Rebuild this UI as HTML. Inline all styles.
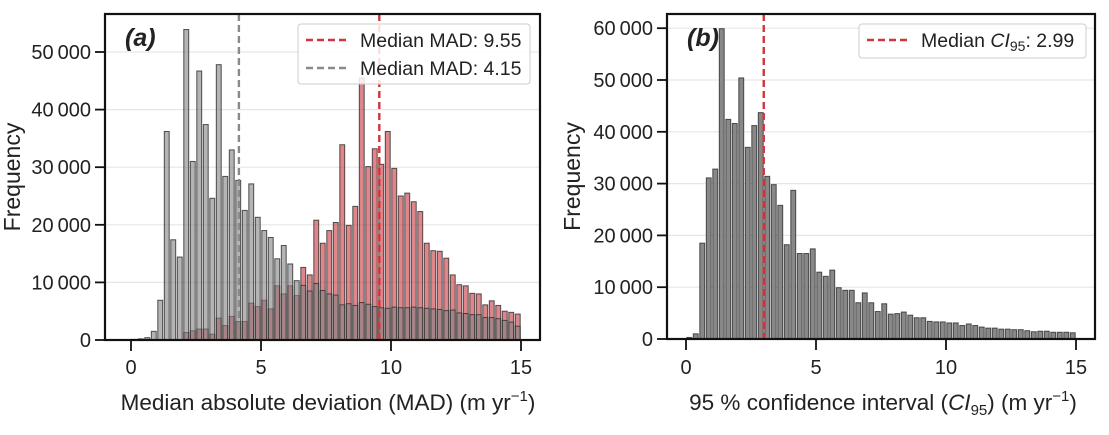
<!DOCTYPE html>
<html><head><meta charset="utf-8"><style>
body{margin:0;background:#fff;width:1109px;height:430px;overflow:hidden}
svg{font-family:"Liberation Sans",Arial,sans-serif}
</style></head><body>
<svg id="c" width="1109" height="430"></svg>
<script>
const binEdgesStart = 0, binWidth = 0.25, binCount = 60;
const grayMAD = [100,200,400,1500,6900,36200,17400,14400,53900,31000,46700,37400,24600,47800,28400,33000,27700,22500,27100,21300,19000,17800,14100,16400,13200,10300,9500,8500,9800,8600,8000,7800,6100,6300,6000,6500,6200,5800,5600,5500,5700,5600,5600,5700,5600,5500,5400,5300,5100,5200,4700,4600,4400,4400,3900,3900,3700,3400,3100,2400];
const redMAD = [0,0,0,0,0,0,0,0,1300,1600,1900,1900,1000,3800,2500,4100,3200,3200,6400,5800,6900,5400,9400,8000,9400,7700,12600,11300,20800,16800,19000,20400,33900,19900,23200,45500,30100,33200,30500,36200,29800,25000,25500,24000,22300,16800,15500,15400,14200,11300,9600,9400,8100,8000,6100,6800,6000,5000,4800,4500];
const ci95 = [300,1000,18500,31100,32800,59900,42400,41600,50400,37000,41200,43700,31400,29800,25800,18200,28700,16500,16500,17400,12900,12100,13300,9900,9400,9400,7000,8900,7000,5300,6800,4800,4900,5200,4600,4100,4100,3400,3300,3300,3100,3100,2600,2900,2600,2300,2100,2100,1900,1900,1800,1800,1600,1400,1500,1500,1300,1300,1300,1200];
const xTicks = [0,5,10,15];
const yTicksA = [0,10000,20000,30000,40000,50000];
const yTicksB = [0,10000,20000,30000,40000,50000,60000];
const medianRed = 9.55, medianGray = 4.15, medianCI = 2.99;

const svg = document.getElementById('c');
const NS = 'http://www.w3.org/2000/svg';
function mk(tag, attrs, parent){const e=document.createElementNS(NS,tag);for(const k in attrs)e.setAttribute(k,attrs[k]);(parent||svg).appendChild(e);return e;}
function fmt(v){const s=String(v);return s.length>3?s.slice(0,-3)+'\u2009'+s.slice(-3):s;}

function panel(p){
  const g = mk('g',{});
  
  
  const X = v => p.x0 + (v/15)*(p.x15-p.x0);
  const Y = v => p.y0 - v/10000*p.per10k;
  p.yTicks.forEach(t=>{ if(t>0){const l=mk('line',{x1:p.L,x2:p.R,y1:Y(t),y2:Y(t),stroke:'#e6e6e6','stroke-width':1.2},g);
    }});
  p.series.forEach(s=>{
    s.vals.forEach((v,i)=>{ if(v<=0) return;
      const x1=X(binEdgesStart+i*binWidth), x2=X(binEdgesStart+(i+1)*binWidth);
      const w=(x2-x1)*0.75;
      const r=mk('rect',{x:x1+(x2-x1-w)/2,y:Y(v),width:w,height:Y(0)-Y(v),fill:s.fill,stroke:'#333','stroke-width':1,'stroke-opacity':0.85},g);
      
      
    });
  });
  p.medians.forEach(m=>{
    const l=mk('line',{x1:X(m.v),x2:X(m.v),y1:p.T,y2:p.y0,stroke:m.color,'stroke-width':2.4,'stroke-dasharray':'7,4'},g);
    
    
  });
  const f=mk('rect',{x:p.L,y:p.T,width:p.R-p.L,height:p.y0-p.T,fill:'none',stroke:'#111','stroke-width':2.2},g);
  
  xTicks.forEach(t=>{
    mk('line',{x1:X(t),x2:X(t),y1:p.y0,y2:p.y0+11,stroke:'#111','stroke-width':1.8},g);
    const tx=mk('text',{x:X(t),y:374,'text-anchor':'middle','font-size':20,fill:'#222'},g);
    tx.textContent=t;
    
  });
  p.yTicks.forEach(t=>{
    mk('line',{x1:p.L-10,x2:p.L,y1:Y(t),y2:Y(t),stroke:'#111','stroke-width':1.8},g);
    const tx=mk('text',{x:p.L-14,y:Y(t)+7,'text-anchor':'end','font-size':20,fill:'#222'},g);
    tx.textContent=fmt(t);
    
  });
  const yl=mk('text',{x:0,y:0,transform:`translate(${p.ylx},${(p.T+p.y0)/2}) rotate(-90)`,'text-anchor':'middle','font-size':23,fill:'#222'},g);
  yl.textContent='Frequency';
  
  const pl=mk('text',{x:p.L+20,y:46,'font-size':25,'font-weight':'bold','font-style':'italic',fill:'#222'},g);
  pl.textContent=p.label;
  
  return {g,X,Y};
}

const A = panel({name:'panel-a',L:105,R:540,T:14,x0:131,x15:521,y0:340,per10k:57.6,yTicks:yTicksA,ylx:20,label:'(a)',
  series:[{name:'mad-red',vals:redMAD,fill:'rgba(205,60,68,0.62)'},{name:'mad-gray',vals:grayMAD,fill:'rgba(130,130,130,0.6)'}],
  medians:[{v:medianGray,color:'#8a8a8a',name:'median-gray-line'},{v:medianRed,color:'#d0343c',name:'median-red-line'}]});
const B = panel({name:'panel-b',L:667,R:1095,T:14,x0:686,x15:1076,y0:339,per10k:51.8,yTicks:yTicksB,ylx:580,label:'(b)',
  series:[{name:'ci95',vals:ci95,fill:'#888888'}],
  medians:[{v:medianCI,color:'#d0343c',name:'median-ci-line'}]});

function legend(x,y,w,h,items,name){
  const g=mk('g',{});
  
  
  mk('rect',{x,y,width:w,height:h,rx:3,fill:'rgba(255,255,255,0.85)',stroke:'#ccc','stroke-width':1},g);
  items.forEach((it,i)=>{
    const yy=y+16+i*28;
    mk('line',{x1:x+8,x2:x+48,y1:yy,y2:yy,stroke:it.c,'stroke-width':2.4,'stroke-dasharray':'7,4'},g);
    const t=mk('text',{x:x+62,y:yy+7,'font-size':19.5,fill:'#222'},g);
    t.innerHTML=it.t;
    
  });
}
legend(298,24,232,60,[{c:'#d0343c',t:'Median MAD: 9.55'},{c:'#8a8a8a',t:'Median MAD: 4.15'}],'legend-a');
legend(859,24,227,34,[{c:'#d0343c',t:'Median <tspan font-style="italic">CI</tspan><tspan font-size="14" dy="4">95</tspan><tspan dy="-4">: 2.99</tspan>'}],'legend-b');

const xa=mk('text',{x:328,y:410,'text-anchor':'middle','font-size':22.5,fill:'#222'});
xa.innerHTML='Median absolute deviation (MAD) (m yr<tspan font-size="15" dy="-9">\u22121</tspan><tspan dy="9">)</tspan>';

const xb=mk('text',{x:883,y:410,'text-anchor':'middle','font-size':22.5,fill:'#222'});
xb.innerHTML='95 % confidence interval (<tspan font-style="italic">CI</tspan><tspan font-size="15" dy="5">95</tspan><tspan dy="-5">) (m yr</tspan><tspan font-size="15" dy="-9">\u22121</tspan><tspan dy="9">)</tspan>';

</script>
</body></html>
